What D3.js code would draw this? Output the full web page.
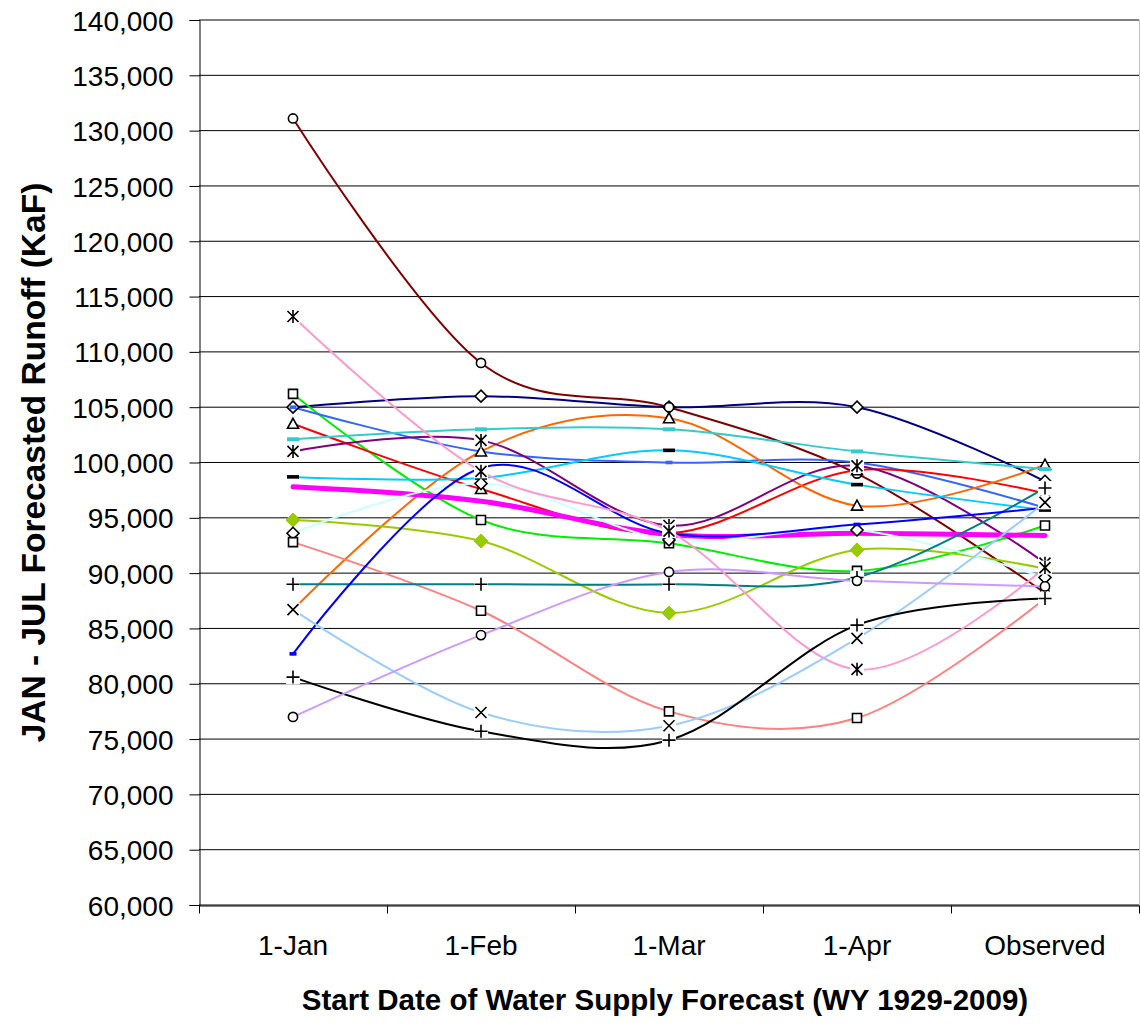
<!DOCTYPE html>
<html><head><meta charset="utf-8">
<script src="https://cdn.jsdelivr.net/npm/d3@7"></script>
<style>
body{margin:0;background:#fff}
svg{display:block}
text{font-family:"Liberation Sans",Arial,sans-serif;fill:#000}
</style>
</head><body>
<svg id="chart" width="1140" height="1025"></svg>
<script>
// ---- data ----
const categories = ["1-Jan", "1-Feb", "1-Mar", "1-Apr", "Observed"];
const yTickValues = [60000, 65000, 70000, 75000, 80000, 85000, 90000, 95000, 100000,
                     105000, 110000, 115000, 120000, 125000, 130000, 135000, 140000];
const xTitle = "Start Date of Water Supply Forecast (WY 1929-2009)";
const yTitle = "JAN - JUL Forecasted Runoff (KaF)";

const navyValues      = [105000, 106000, 105000, 105000, 98300];
const maroonValues    = [131100, 109000, 105000, 99000, 88200];
const greenValues     = [106200, 94800, 92700, 90200, 94300];
const royalValues     = [105000, 101000, 100000, 100000, 95900];
const redValues       = [103500, 97600, 93600, 99300, 97200];
const orangeValues    = [86700, 101000, 104000, 96100, 99800];
const turquoiseValues = [102100, 103000, 103000, 101000, 99400];
const purpleValues    = [101000, 102000, 94300, 99700, 90900];
const skyValues       = [98700, 98600, 101100, 98000, 95700];
const averageValues   = [97800, 96500, 93500, 93600, 93400];
const limeValues      = [94800, 92900, 86400, 92100, 90400];
const paleCyanValues  = [93600, 98100, 93000, 93900, 89600];
const salmonValues    = [92800, 86600, 77500, 76900, 87700];
const tealValues      = [89000, 89000, 89000, 89600, 97700];
const blueValues      = [82700, 99500, 93600, 94400, 95900];
const pinkValues      = [113200, 99200, 93800, 81300, 90500];
const lightBlueValues = [86700, 77400, 76200, 84100, 96400];
const blackValues     = [80600, 75700, 74900, 85300, 87700];
const lavenderValues  = [77000, 84400, 90100, 89300, 88800];

// ---- styles (kept apart from data) ----
const series = [
  {values: navyValues,      color: "#000080", marker: "diamond"},
  {values: maroonValues,    color: "#800000", marker: "circle"},
  {values: greenValues,     color: "#00EE00", marker: "square"},
  {values: royalValues,     color: "#3366FF", marker: "dot"},
  {values: redValues,       color: "#FF0000", marker: "triangle"},
  {values: orangeValues,    color: "#FF6600", marker: "triangle"},
  {values: turquoiseValues, color: "#33CCCC", marker: "dashColor"},
  {values: purpleValues,    color: "#800080", marker: "asterisk"},
  {values: skyValues,       color: "#00CCFF", marker: "dashBlack"},
  {values: averageValues,   color: "#FF00FF", marker: "none", width: 5},
  {values: limeValues,      color: "#99CC00", marker: "diamondFilled"},
  {values: paleCyanValues,  color: "#CCFFFF", marker: "diamond"},
  {values: salmonValues,    color: "#FF8080", marker: "square"},
  {values: tealValues,      color: "#008080", marker: "plus"},
  {values: blueValues,      color: "#0000FF", marker: "dot"},
  {values: pinkValues,      color: "#FF99CC", marker: "asterisk"},
  {values: lightBlueValues, color: "#99CCFF", marker: "times"},
  {values: blackValues,     color: "#000000", marker: "plus"},
  {values: lavenderValues,  color: "#CC99FF", marker: "circle"}
];

(function () {
// ---- layout ----
const svg = d3.select("#chart");
const pLeft = 199, pRight = 1139, pTop = 20, pBottom = 905;

const x = d3.scaleBand().domain(categories).range([pLeft, pRight]);
const y = d3.scaleLinear().domain([60000, 140000]).range([pBottom, pTop]);
const cx = c => x(c) + x.bandwidth() / 2;

// gridlines
svg.append("g").selectAll("line").data(yTickValues).join("line")
  .attr("x1", pLeft).attr("x2", pRight)
  .attr("y1", d => y(d)).attr("y2", d => y(d))
  .attr("stroke", "#000").attr("stroke-width", 1);

// right border of plot area
svg.append("line").attr("x1", pRight + 0.5).attr("x2", pRight + 0.5)
  .attr("y1", pTop).attr("y2", pBottom).attr("stroke", "#c0c0c0");

// y axis
const yAxis = d3.axisLeft(y).tickValues(yTickValues).tickFormat(d3.format(",")).tickSize(10).tickPadding(16);
const gy = svg.append("g").attr("transform", `translate(${pLeft + 0.5},0)`).call(yAxis);
gy.select(".domain").attr("stroke", "#000");
gy.selectAll(".tick line").attr("stroke", "#000");
gy.selectAll(".tick text").attr("font-size", 28).attr("font-family", '"Liberation Sans",Arial,sans-serif')
  .attr("dy", "0.36em");

// x axis
const xAxis = d3.axisBottom(x).tickSize(0).tickPadding(30);
const gx = svg.append("g").attr("transform", `translate(0,${pBottom + 0.5})`).call(xAxis);
gx.select(".domain").attr("stroke", "#000");
gx.selectAll(".tick text").attr("font-size", 28).attr("font-family", '"Liberation Sans",Arial,sans-serif')
  .attr("dy", "0.71em");
// tick marks between categories
const boundaries = categories.map(c => x(c)).concat([pRight]);
gx.append("g").selectAll("line").data(boundaries).join("line")
  .attr("x1", d => d + 0.5).attr("x2", d => d + 0.5)
  .attr("y1", 0).attr("y2", 8).attr("stroke", "#000");

// axis titles
svg.append("text").attr("x", 665).attr("y", 1010).attr("text-anchor", "middle")
  .attr("font-size", 29.5).attr("font-weight", "bold").text(xTitle);
svg.append("text").attr("transform", `translate(45,${(pTop + pBottom) / 2}) rotate(-90)`)
  .attr("text-anchor", "middle").attr("font-size", 33.5).attr("font-weight", "bold").text(yTitle);

// lines
const line = d3.line()
  .x((d, i) => cx(categories[i]))
  .y(d => y(d))
  .curve(d3.curveCardinal.tension(0));

svg.append("g").selectAll("path").data(series).join("path")
  .attr("d", s => line(s.values))
  .attr("fill", "none")
  .attr("stroke", s => s.color)
  .attr("stroke-width", s => s.width || 2)
  .attr("stroke-linejoin", "round")
  .attr("stroke-linecap", "round");

// markers
const markerPaths = {
  square: "M-4.5,-4.5H4.5V4.5H-4.5Z",
  diamond: "M0,-6L6,0L0,6L-6,0Z",
  diamondFilled: "M0,-7L7,0L0,7L-7,0Z",
  triangle: "M0,-5.5L5.5,4.5H-5.5Z",
  times: "M-5.5,-5.5L5.5,5.5M-5.5,5.5L5.5,-5.5",
  asterisk: "M-5.5,-5.5L5.5,5.5M-5.5,5.5L5.5,-5.5M0,-6.5V6.5",
  plus: "M-6.5,0H6.5M0,-6.5V6.5"
};
const mg = svg.append("g");
series.forEach(s => {
  if (s.marker === "none") return;
  s.values.forEach((v, i) => {
    const g = mg.append("g").attr("transform", `translate(${cx(categories[i])},${y(v)})`);
    const m = s.marker;
    if (m === "times" || m === "asterisk" || m === "plus") {
      g.append("rect").attr("x", -7).attr("y", -7).attr("width", 14).attr("height", 14).attr("fill", "#fff");
      g.append("path").attr("d", markerPaths[m]).attr("fill", "none").attr("stroke", "#000").attr("stroke-width", 1.6);
    } else if (m === "circle") {
      g.append("circle").attr("r", 4.6).attr("fill", "#fff").attr("stroke", "#000").attr("stroke-width", 1.6);
    } else if (m === "diamondFilled") {
      g.append("path").attr("d", markerPaths[m]).attr("fill", s.color).attr("stroke", s.color).attr("stroke-width", 1);
    } else if (m === "dot") {
      g.append("rect").attr("x", -3.5).attr("y", -1.8).attr("width", 7).attr("height", 3.6).attr("fill", s.color);
    } else if (m === "dashColor") {
      g.append("rect").attr("x", -6).attr("y", -2).attr("width", 12).attr("height", 4).attr("fill", s.color);
    } else if (m === "dashBlack") {
      g.append("rect").attr("x", -6).attr("y", -1.8).attr("width", 12).attr("height", 3.6).attr("fill", "#000");
    } else {
      g.append("path").attr("d", markerPaths[m]).attr("fill", "#fff").attr("stroke", "#000").attr("stroke-width", 1.6);
    }
  });
});
})();
</script>
</body></html>
